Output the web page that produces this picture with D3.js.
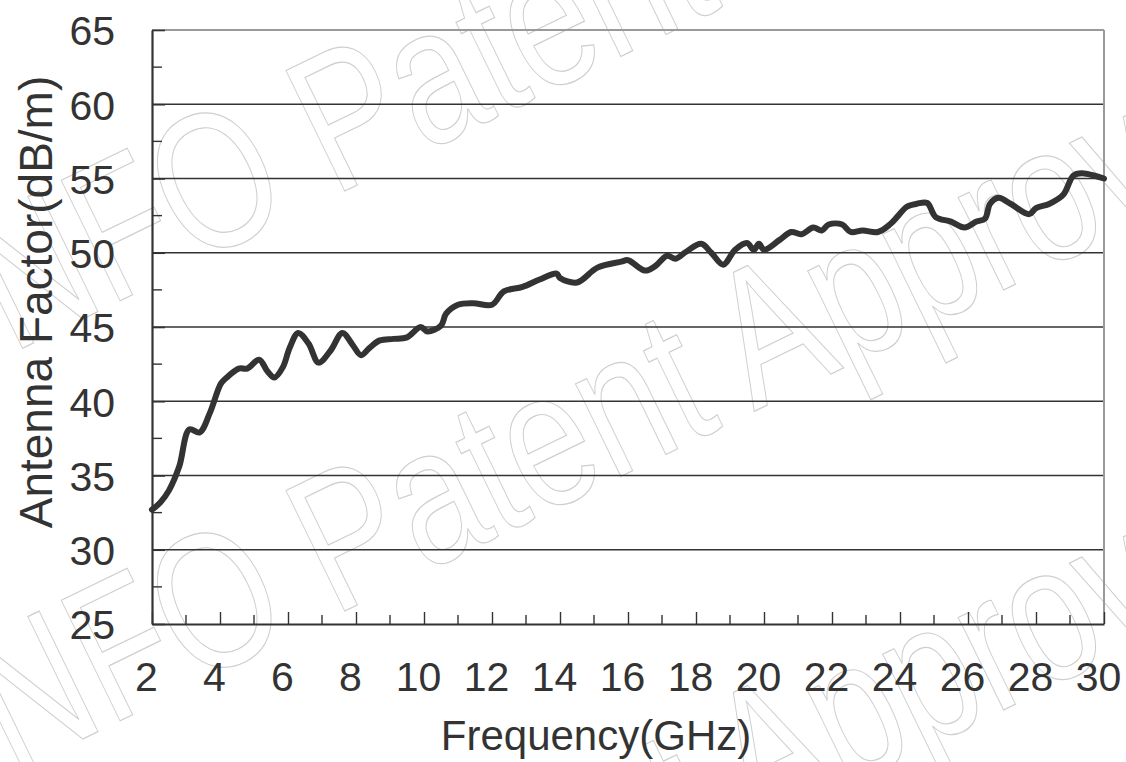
<!DOCTYPE html>
<html>
<head>
<meta charset="utf-8">
<script src="https://cdn.jsdelivr.net/npm/d3@7"></script>
<style>
  body { margin: 0; background: #fff; }
  text { font-family: "Liberation Sans", Arial, sans-serif; }
</style>
</head>
<body>
<div id="chart"></div>
<script>
// data
var freqGHz = [2.0, 2.25, 2.5, 2.8, 3.1, 3.4, 3.7, 4.03, 4.2, 4.55, 4.8, 5.15, 5.4, 5.6, 5.85,
  6.05, 6.3, 6.6, 6.9, 7.25, 7.6, 7.9, 8.15, 8.4, 8.7, 9.1, 9.5, 9.9, 10.1, 10.5, 10.65,
  11.0, 11.45, 12.0, 12.35, 12.9, 13.4, 13.9, 14.0, 14.5, 15.1, 15.8, 16.0, 16.5, 16.8,
  17.15, 17.4, 17.7, 18.15, 18.45, 18.8, 19.15, 19.5, 19.7, 19.85, 20.0, 20.45, 20.8, 21.1,
  21.45, 21.7, 21.9, 22.3, 22.55, 22.9, 23.35, 23.7, 23.95, 24.2, 24.5, 24.8, 25.05, 25.5,
  25.9, 26.25, 26.5, 26.65, 26.9, 27.25, 27.8, 28.0, 28.4, 28.8, 29.1, 29.35, 29.7, 30.0];
var antennaFactor = [32.7, 33.2, 34.0, 35.6, 38.1, 37.9, 39.2, 41.2, 41.6, 42.2, 42.2, 42.8, 42.0, 41.6, 42.3,
  43.6, 44.6, 43.9, 42.6, 43.4, 44.6, 43.8, 43.1, 43.6, 44.1, 44.2, 44.3, 45.0, 44.7, 45.1, 45.9,
  46.5, 46.6, 46.5, 47.4, 47.7, 48.2, 48.6, 48.3, 48.0, 49.0, 49.4, 49.5, 48.8, 49.1,
  49.8, 49.6, 50.05, 50.6, 50.0, 49.2, 50.2, 50.65, 50.2, 50.6, 50.2, 50.85, 51.4, 51.25,
  51.7, 51.5, 51.9, 51.9, 51.4, 51.5, 51.4, 51.9, 52.5, 53.1, 53.3, 53.35, 52.4, 52.1,
  51.7, 52.1, 52.3, 53.3, 53.7, 53.3, 52.6, 53.0, 53.3, 53.9, 55.2, 55.35, 55.2, 55.0];

var xTickValues = d3.range(2, 31, 2);
var xMinorValues = d3.range(3, 30, 2);
var yTickValues = d3.range(25, 66, 5);
var yMinorValues = d3.range(27.5, 65, 5);
var gridValues = [30, 35, 40, 45, 50, 55, 60];
var watermarkText = "INFO Patent Approval";

var svgWidth = 1126;
var svgHeight = 762;

var margin = {top: 30, right: 22, bottom: 138, left: 152},
  width = svgWidth - margin.left - margin.right,
  height = svgHeight - margin.top - margin.bottom;

var svg = d3.select("#chart")
  .append("svg")
  .attr("width", svgWidth)
  .attr("height", svgHeight);

// faint outlined watermark behind the chart (it runs off the page, as in the scan)
[372, 792, 1212].forEach(function(y0) {
  svg.append("text")
    .attr("transform", `translate(-26, ${y0}) rotate(-26) scale(0.77, 1)`)
    .attr("font-size", "195px")
    .attr("fill", "none")
    .attr("stroke", "#cfcfcf")
    .attr("stroke-width", 1.2)
    .text(watermarkText);
});

var chartGroup = svg.append("g")
  .attr("transform", `translate(${margin.left}, ${margin.top})`);

var xScale = d3.scaleLinear().domain([2, 30]).range([0, width]);
var yScale = d3.scaleLinear().domain([25, 65]).range([height, 0]);

// horizontal grid lines
chartGroup.append("g")
  .selectAll("line")
  .data(gridValues)
  .enter()
  .append("line")
  .attr("x1", 0)
  .attr("x2", width)
  .attr("y1", d => yScale(d))
  .attr("y2", d => yScale(d))
  .attr("stroke", "#333")
  .attr("stroke-width", 1.3);

// top and right frame (grey)
chartGroup.append("line")
  .attr("x1", 0).attr("x2", width)
  .attr("y1", yScale(65)).attr("y2", yScale(65))
  .attr("stroke", "#9a9a9a").attr("stroke-width", 2);
chartGroup.append("line")
  .attr("x1", xScale(30)).attr("x2", xScale(30))
  .attr("y1", yScale(65)).attr("y2", height)
  .attr("stroke", "#9a9a9a").attr("stroke-width", 2);

// y axis, ticks point inward
var leftAxis = d3.axisLeft(yScale)
  .tickValues(yTickValues)
  .tickSizeInner(-13)
  .tickSizeOuter(0)
  .tickPadding(50);

var yAxis = chartGroup.append("g").call(leftAxis);
yAxis.select(".domain").attr("stroke", "#333").attr("stroke-width", 2.2);
yAxis.selectAll(".tick line").attr("stroke", "#333").attr("stroke-width", 1.6);
yAxis.selectAll(".tick text")
  .attr("font-size", "41px")
  .attr("fill", "#333")
  .attr("x", -37)
  .attr("dy", "0.36em");

chartGroup.append("g")
  .selectAll("line")
  .data(yMinorValues)
  .enter()
  .append("line")
  .attr("x1", 0)
  .attr("x2", 10)
  .attr("y1", d => yScale(d))
  .attr("y2", d => yScale(d))
  .attr("stroke", "#333")
  .attr("stroke-width", 1.4);

// x axis
var bottomAxis = d3.axisBottom(xScale)
  .tickValues(xTickValues)
  .tickSizeInner(-12)
  .tickSizeOuter(0)
  .tickPadding(0);

var xAxis = chartGroup.append("g")
  .attr("transform", `translate(0, ${height})`)
  .call(bottomAxis);
xAxis.select(".domain").attr("stroke", "#333").attr("stroke-width", 2.2);
xAxis.selectAll(".tick line").attr("stroke", "#333").attr("stroke-width", 1.4);
xAxis.selectAll(".tick text")
  .attr("font-size", "41px")
  .attr("fill", "#333")
  .attr("x", -6)
  .attr("y", 67)
  .attr("dy", 0);

chartGroup.append("g")
  .selectAll("line")
  .data(xMinorValues)
  .enter()
  .append("line")
  .attr("x1", d => xScale(d))
  .attr("x2", d => xScale(d))
  .attr("y1", height)
  .attr("y2", height - 9)
  .attr("stroke", "#333")
  .attr("stroke-width", 1.4);

// the measured curve
var points = freqGHz.map(function(f, i) { return [f, antennaFactor[i]]; });

var line = d3.line()
  .x(d => xScale(d[0]))
  .y(d => yScale(d[1]))
  .curve(d3.curveCatmullRom.alpha(0.5));

chartGroup.append("path")
  .datum(points)
  .attr("d", line)
  .attr("fill", "none")
  .attr("stroke", "#333")
  .attr("stroke-width", 6)
  .attr("stroke-linejoin", "round")
  .attr("stroke-linecap", "round");

// axis titles
svg.append("text")
  .attr("x", 596)
  .attr("y", 750)
  .attr("text-anchor", "middle")
  .attr("font-size", "42px")
  .attr("fill", "#333")
  .text("Frequency(GHz)");

svg.append("text")
  .attr("transform", "translate(52, 302) rotate(-90)")
  .attr("text-anchor", "middle")
  .attr("font-size", "46px")
  .attr("fill", "#333")
  .text("Antenna Factor(dB/m)");
</script>
</body>
</html>
